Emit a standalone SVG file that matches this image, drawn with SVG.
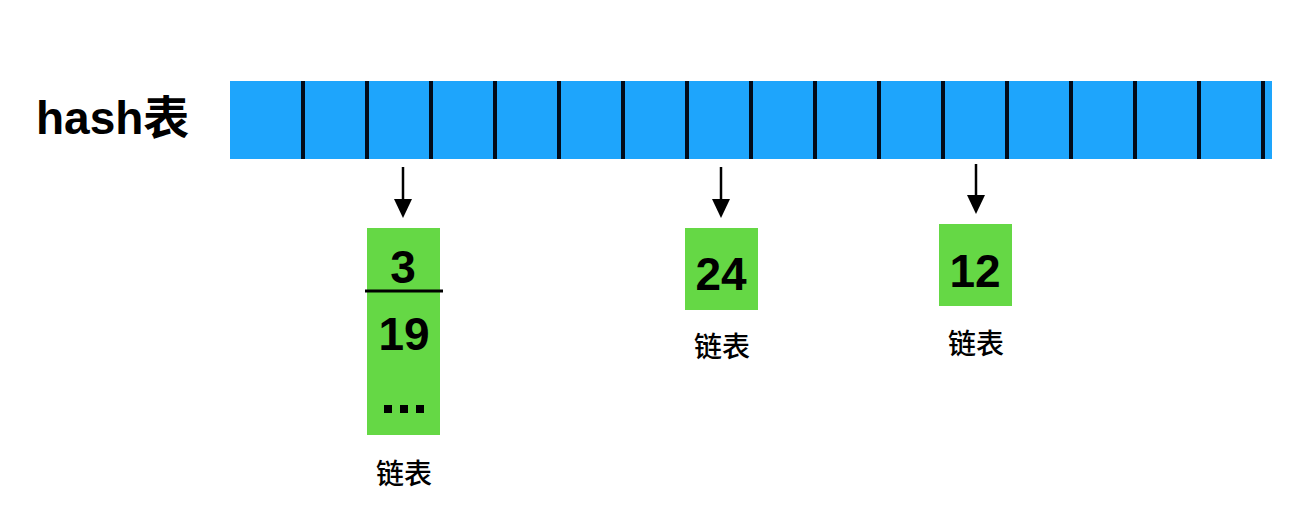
<svg xmlns="http://www.w3.org/2000/svg" width="1314" height="516" viewBox="0 0 1314 516">
<style>
.num{font-family:"Liberation Sans",Arial,sans-serif;font-weight:bold;font-size:46px;fill:#000;text-anchor:middle}
.cn{font-family:"Noto Sans CJK SC",sans-serif;font-weight:500;font-size:28px;fill:#000;text-anchor:middle}
.box{fill:#65d845}
.div{stroke:#020c1a;stroke-width:4}
.arr{stroke:#000;stroke-width:2.5;fill:none}
</style>
<rect width="1314" height="516" fill="#fff"/>
<g id="label">
<text x="36" y="134" font-family="'Liberation Sans','Noto Sans CJK SC',sans-serif" font-weight="bold" font-size="46">hash表</text>
</g>
<g id="hashtable">
<rect x="230" y="81" width="1042" height="78" fill="#1ea5fc"/>
<g class="div">
<line x1="303" y1="81" x2="303" y2="159"/>
<line x1="367" y1="81" x2="367" y2="159"/>
<line x1="431" y1="81" x2="431" y2="159"/>
<line x1="495" y1="81" x2="495" y2="159"/>
<line x1="559" y1="81" x2="559" y2="159"/>
<line x1="623" y1="81" x2="623" y2="159"/>
<line x1="687" y1="81" x2="687" y2="159"/>
<line x1="751" y1="81" x2="751" y2="159"/>
<line x1="815" y1="81" x2="815" y2="159"/>
<line x1="879" y1="81" x2="879" y2="159"/>
<line x1="943" y1="81" x2="943" y2="159"/>
<line x1="1007" y1="81" x2="1007" y2="159"/>
<line x1="1071" y1="81" x2="1071" y2="159"/>
<line x1="1135" y1="81" x2="1135" y2="159"/>
<line x1="1199" y1="81" x2="1199" y2="159"/>
<line x1="1263" y1="81" x2="1263" y2="159"/>
</g>
</g>
<g id="connectors">
<path class="arr" d="M403,167 L403,200"/>
<path d="M394,199 L412,199 L403,218 z" fill="#000"/>
<path class="arr" d="M721,167 L721,200"/>
<path d="M712,199 L730,199 L721,218 z" fill="#000"/>
<path class="arr" d="M976,164 L976,196"/>
<path d="M967,195 L985,195 L976,214 z" fill="#000"/>
</g>
<g id="list1">
<rect class="box" x="367" y="228" width="73" height="207"/>
<line x1="365" y1="291" x2="443" y2="291" stroke="#000" stroke-width="3"/>
<text class="num" x="403" y="283">3</text>
<text class="num" x="404" y="350">19</text>
<g fill="#000">
<rect x="384" y="405" width="8" height="8"/>
<rect x="400" y="405" width="8" height="8"/>
<rect x="416" y="405" width="8" height="8"/>
</g>
<text class="cn" x="404" y="484">链表</text>
</g>
<g id="list2">
<rect class="box" x="685" y="228" width="73" height="82"/>
<text class="num" x="721" y="290">24</text>
<text class="cn" x="722" y="357">链表</text>
</g>
<g id="list3">
<rect class="box" x="939" y="224" width="73" height="82"/>
<text class="num" x="975" y="287">12</text>
<text class="cn" x="976" y="354">链表</text>
</g>
</svg>
